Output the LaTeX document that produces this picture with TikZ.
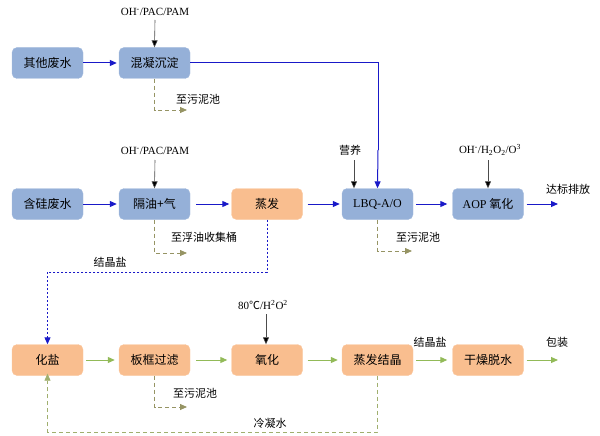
\documentclass[tikz,border=0pt]{standalone}
\usepackage{fontspec}
\setmainfont{Liberation Serif}
\newfontfamily\cjk{Noto Sans CJK SC}
\usetikzlibrary{arrows.meta}
\definecolor{bfill}{RGB}{149,176,216}
\definecolor{bdraw}{RGB}{165,188,222}
\definecolor{ofill}{RGB}{249,190,143}
\definecolor{odraw}{RGB}{250,200,160}
\definecolor{flowblue}{RGB}{25,25,200}
\definecolor{flowgreen}{RGB}{146,186,88}
\definecolor{mudc}{RGB}{150,148,100}
\definecolor{condc}{RGB}{160,175,110}
\begin{document}
\begin{tikzpicture}[x=1pt,y=-1pt,
  box/.style={rounded corners=5pt, minimum width=71pt, minimum height=31pt, inner sep=0pt, font=\cjk\fontsize{12}{14}\selectfont},
  bbox/.style={box, fill=bfill, draw=bdraw},
  obox/.style={box, fill=ofill, draw=odraw},
  lbl/.style={inner sep=0pt, font=\cjk\fontsize{11}{13}\selectfont},
  rlbl/.style={inner sep=0pt, font=\rmfamily\fontsize{11}{13}\selectfont},
  tip/.style={-{Triangle[length=7pt,width=6pt]}},
  blueflow/.style={tip, draw=flowblue, line width=1pt},
  greenflow/.style={tip, draw=flowgreen, line width=1pt},
  feed/.style={-{Triangle[length=7pt,width=6pt,fill=black]}, draw=black!70, line width=0.6pt},
  mud/.style={tip, draw=mudc, line width=0.8pt, dash pattern=on 4pt off 3pt},
  cond/.style={tip, draw=condc, line width=0.8pt, dash pattern=on 4pt off 3pt},
  salt/.style={tip, draw=flowblue, line width=1pt, dash pattern=on 2pt off 2pt}
]
\useasboundingbox (0,0) rectangle (600,436);

% row 1
\node[bbox] (qt) at (47.5,63) {其他废水};
\node[bbox] (hn) at (154.5,63) {混凝沉淀};
% row 2
\node[bbox] (hg) at (47.5,204) {含硅废水};
\node[bbox] (gy) at (154.5,204) {隔油+气};
\node[obox] (zf) at (267,204) {蒸发};
\node[bbox] (lbq) at (377.5,204) {\rmfamily LBQ-A/O};
\node[bbox] (aop) at (488,204) {{\rmfamily AOP} 氧化};
% row 3
\node[obox] (hy) at (47.5,360) {化盐};
\node[obox] (bk) at (154.5,360) {板框过滤};
\node[obox] (yh) at (267,360) {氧化};
\node[obox] (zj) at (377.5,360) {蒸发结晶};
\node[obox] (gz) at (488,360) {干燥脱水};

% labels
\node[rlbl] (l1) at (155,12) {OH\textsuperscript{-}/PAC/PAM};
\node[rlbl] (l2) at (155,151) {OH\textsuperscript{-}/PAC/PAM};
\node[lbl] (ly) at (350,150) {营养};
\node[rlbl] (l3) at (490,150) {OH\textsuperscript{-}/H\textsubscript{2}O\textsubscript{2}/O\textsuperscript{3}};
\node[rlbl] (l4) at (263,305) {80{\cjk ℃}/H\textsuperscript{2}O\textsuperscript{2}};
\node[lbl] (dbpf) at (568,189) {达标排放};
\node[lbl] (bz) at (557,342) {包装};
\node[lbl] (jjy2) at (430,342) {结晶盐};
\node[lbl] (jjy1) at (110,262) {结晶盐};
\node[lbl] (w1) at (198,99) {至污泥池};
\node[lbl] (fy) at (204,237) {至浮油收集桶};
\node[lbl] (w2) at (418,237) {至污泥池};
\node[lbl] (w3) at (195,393) {至污泥池};
\node[lbl] (lns) at (270,423) {冷凝水};

% coordinates
\coordinate (out1) at (558,204);
\coordinate (out2) at (558,360);
\coordinate (m1) at (187,110);
\coordinate (m2) at (187,253);
\coordinate (m3) at (412,251);
\coordinate (m4) at (187,407);
\coordinate (s1) at (47.5,272);
\coordinate (c1) at (47.5,432);
\coordinate (bt) at (378,150);

% feeds
\draw[feed] (155,20) -- (hn.north);
\draw[feed] (155,160) -- (gy.north);
\draw[feed] (354,160) -- (lbq.north -| 354,0);
\draw[feed] (488,160) -- (aop.north);
\draw[feed] (266,314) -- (yh.north -| 266,0);

% blue flows
\draw[blueflow, shorten >=2pt] (qt) -- (hn);
\draw[flowblue, line width=1pt] (hn.east) -| (bt);
\draw[blueflow] (bt) -- (lbq.north);
\draw[blueflow, shorten >=2pt] (hg) -- (gy);
\draw[blueflow, shorten <=6pt, shorten >=2pt] (gy) -- (zf);
\draw[blueflow, shorten <=5pt, shorten >=2pt] (zf) -- (lbq);
\draw[blueflow, shorten <=3pt, shorten >=5pt] (lbq) -- (aop);
\draw[blueflow, shorten <=3pt] (aop.east) -- (out1);

% green flows
\draw[greenflow, shorten <=3pt, shorten >=4pt] (hy) -- (bk);
\draw[greenflow, shorten <=6pt, shorten >=4pt] (bk) -- (yh);
\draw[greenflow, shorten <=5pt, shorten >=4pt] (yh) -- (zj);
\draw[greenflow, shorten <=3pt, shorten >=5pt] (zj) -- (gz);
\draw[greenflow, shorten <=3pt] (gz.east) -- (out2);

% mud / residue
\draw[mud] (hn.south) |- (m1);
\draw[mud] (gy.south) |- (m2);
\draw[mud] (lbq.south) |- (m3);
\draw[mud] (bk.south) |- (m4);

% salt recycle
\draw[salt] (zf.south) |- (s1) -- (hy.north);
% condensate
\draw[cond] (zj.south) |- (c1) -- ([yshift=2pt]hy.south);
\end{tikzpicture}
\end{document}
